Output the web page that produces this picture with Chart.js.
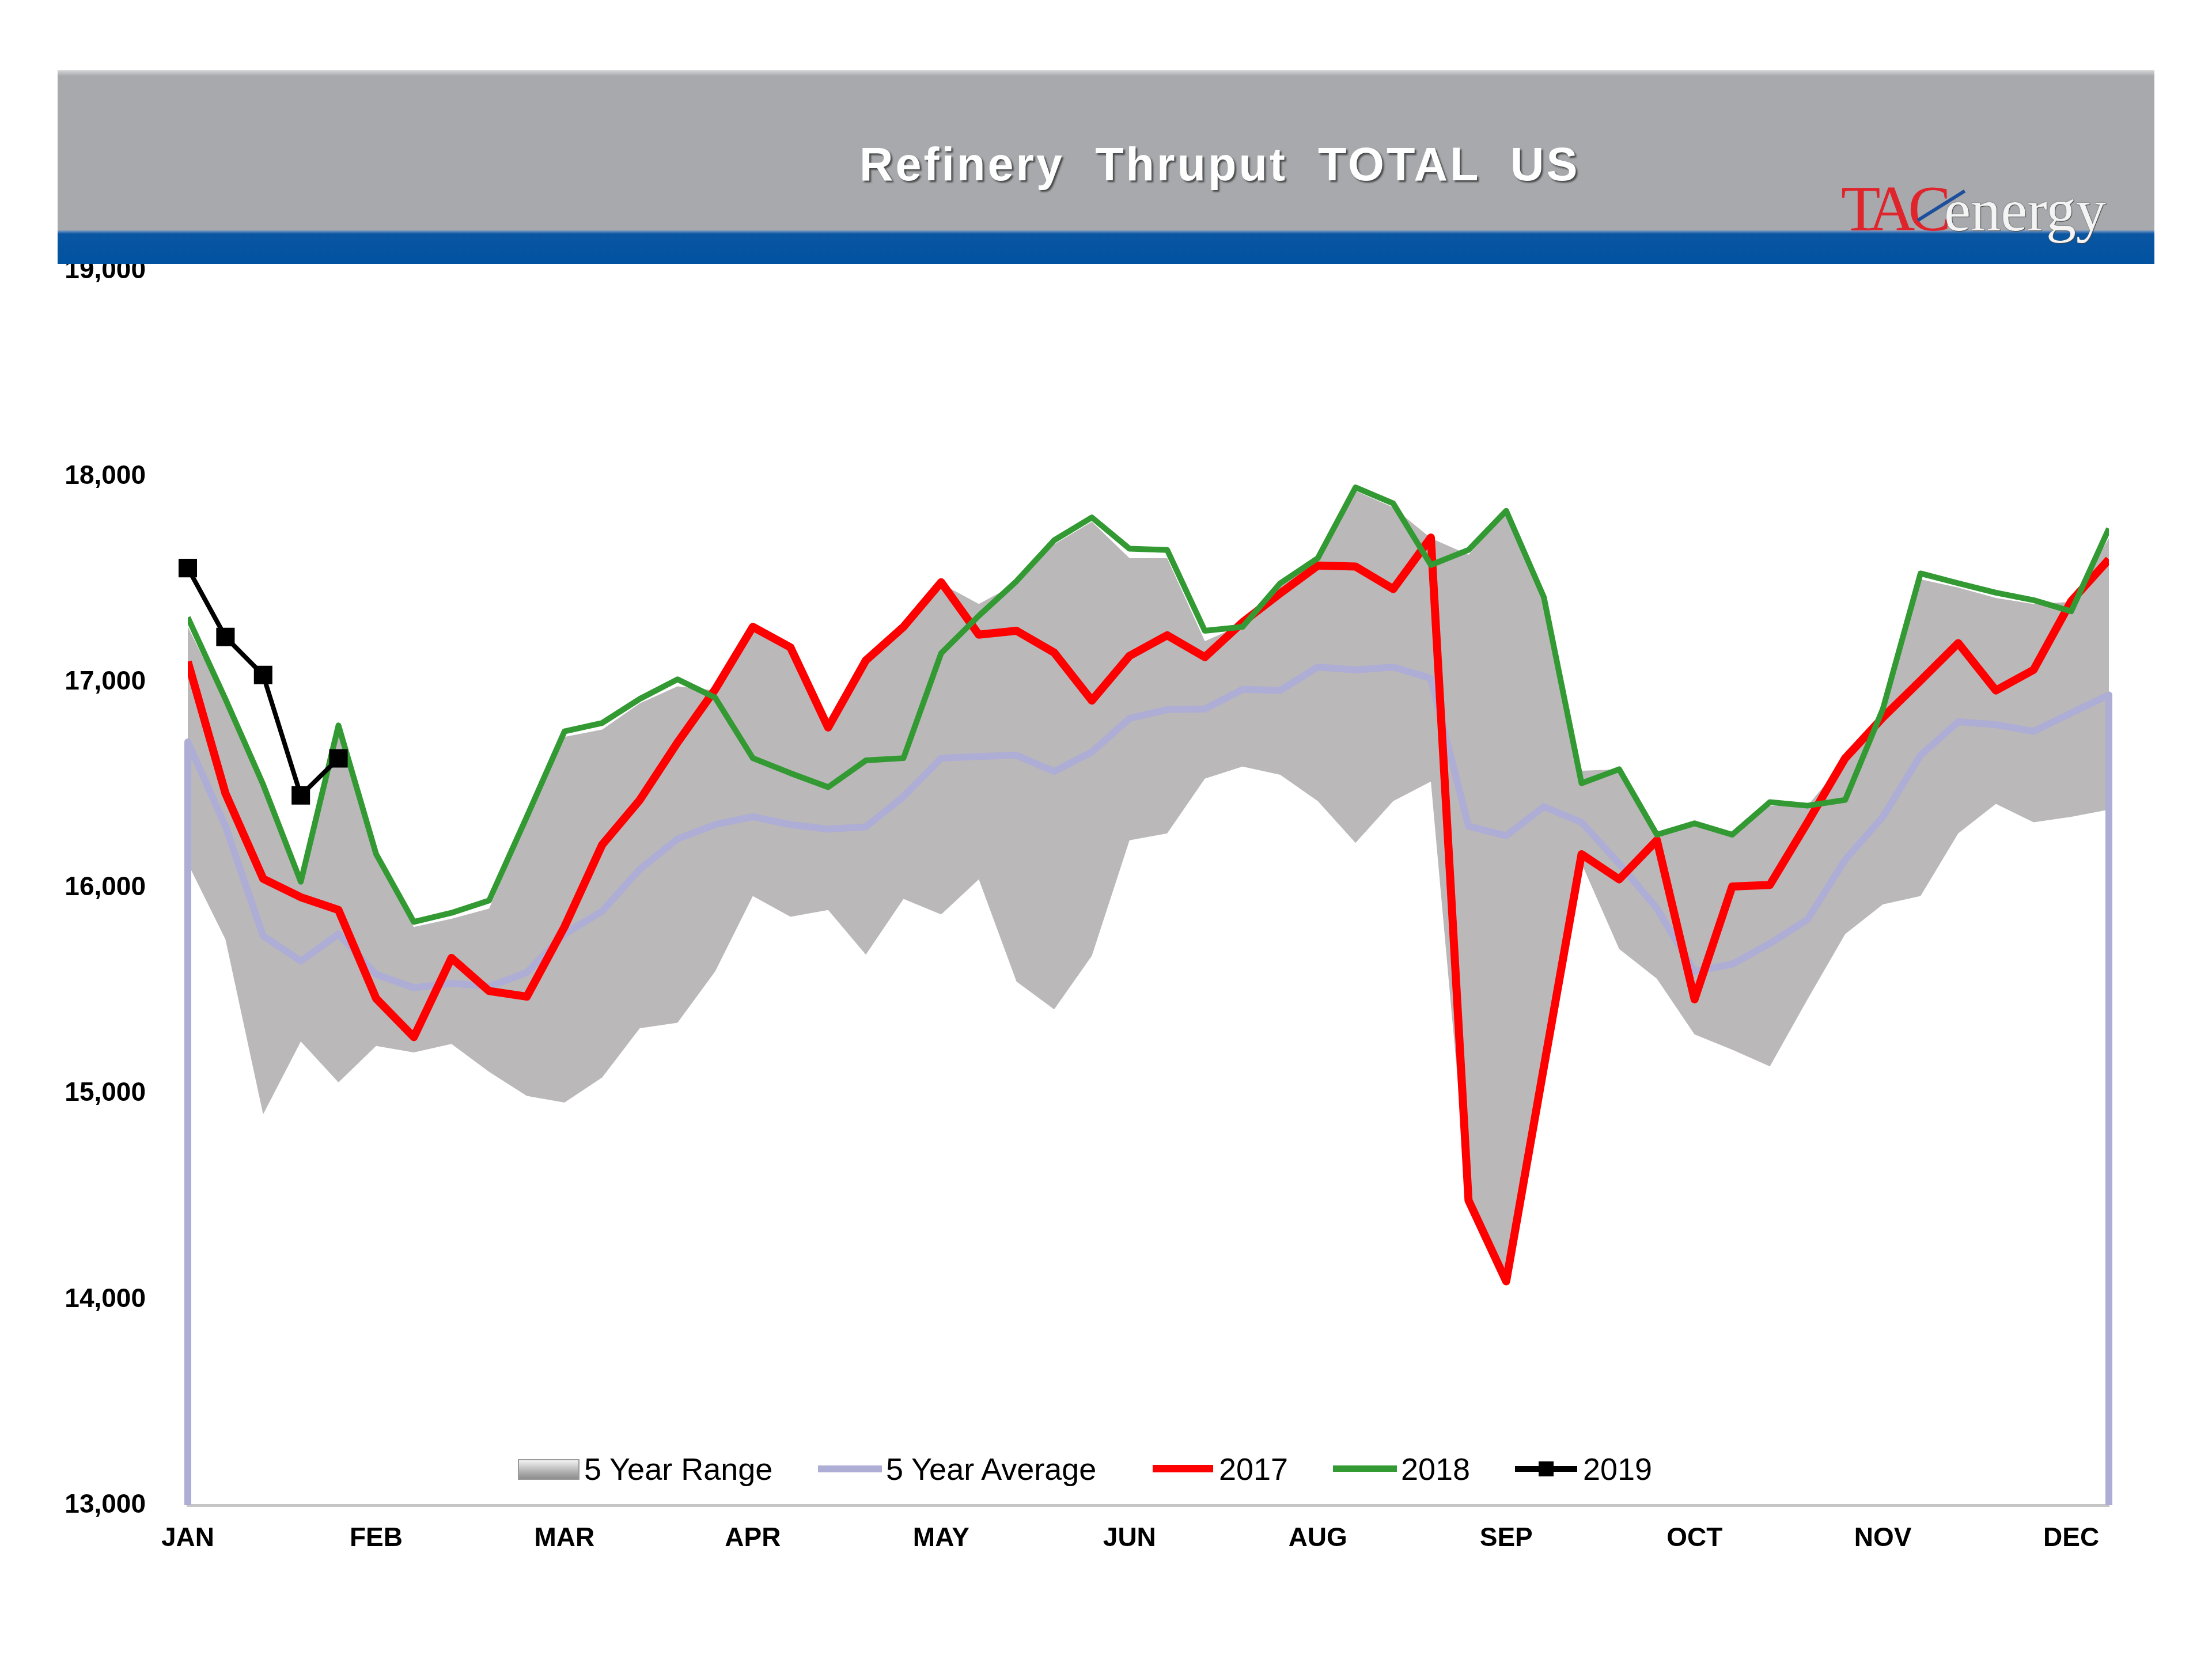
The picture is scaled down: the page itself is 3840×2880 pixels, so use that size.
<!DOCTYPE html>
<html>
<head>
<meta charset="utf-8">
<script src="https://cdn.jsdelivr.net/npm/chart.js@4/dist/chart.umd.min.js"></script>
<style>
html,body{margin:0;padding:0;background:#fff;}
#wrap{position:relative;width:3840px;height:2880px;overflow:hidden;font-family:"Liberation Sans",Arial,sans-serif;}
#c{position:absolute;left:0;top:0;z-index:1;}
#band{position:absolute;left:100px;top:122px;width:3640px;height:278px;z-index:2;background:linear-gradient(#d4d5d7 0px,#a7a9ac 10px,#a7a9ac 100%);}
#blue{position:absolute;left:100px;top:400px;width:3640px;height:58px;z-index:2;background:linear-gradient(#7f9cc4 0px,#0a56a3 6px,#0052a0 100%);}
#title{position:absolute;left:1492px;top:245px;z-index:3;font-size:81px;line-height:81px;font-weight:bold;color:#fff;white-space:pre;letter-spacing:4px;text-shadow:3px 3px 3px rgba(40,40,40,0.75);}
#logo{position:absolute;left:3196px;top:302px;z-index:3;white-space:pre;font-family:"Liberation Serif","DejaVu Serif",serif;line-height:120px;}
#logo .tac{color:#e0242b;font-size:112px;letter-spacing:-12px;}
#logo .en{color:#f4f4f4;font-size:104px;text-shadow:0 0 2px #555,1px 1px 1px #444;}
#slash{position:absolute;left:3322px;top:354px;z-index:4;width:96px;height:6px;background:#1d4f9c;transform:rotate(-32deg);}
.lg{position:absolute;z-index:3;font-size:54px;line-height:54px;color:#000;white-space:pre;top:2523px;}
.sw{position:absolute;z-index:3;}
</style>
</head>
<body>
<div id="wrap">
  <div id="band"></div>
  <div id="blue"></div>
  <div id="title">Refinery  Thruput  TOTAL  US</div>
  <div id="logo"><span class="tac">TAC</span><span class="en">energy</span></div>
  <div id="slash"></div>
  <canvas id="c" width="3840" height="2880"></canvas>
  <div class="sw" style="left:899px;top:2533px;width:103px;height:32px;background:linear-gradient(#f2f2f2,#a9a9a9 70%,#8e8e8e);border:2px solid #9a9a9a;"></div>
  <div class="lg" style="left:1014px;">5 Year Range</div>
  <div class="sw" style="left:1420px;top:2544px;width:111px;height:12px;background:#adadd6;"></div>
  <div class="lg" style="left:1538px;">5 Year Average</div>
  <div class="sw" style="left:2001px;top:2543px;width:105px;height:13px;background:#ff0000;"></div>
  <div class="lg" style="left:2116px;">2017</div>
  <div class="sw" style="left:2314px;top:2544px;width:111px;height:11px;background:#339a33;"></div>
  <div class="lg" style="left:2432px;">2018</div>
  <div class="sw" style="left:2630px;top:2545px;width:108px;height:10px;background:#000;"></div>
  <div class="sw" style="left:2671px;top:2537px;width:26px;height:26px;background:#000;"></div>
  <div class="lg" style="left:2748px;">2019</div>
</div>
<script>
// ---- data (thousand barrels/day, weekly) ----
const weeks = Array.from({length: 52}, (_, i) => i + 1);
const tickLabels = ["JAN","FEB","MAR","APR","MAY","JUN","AUG","SEP","OCT","NOV","DEC"];
const rangeLow = [16120,15750,14900,15254,15055,15232,15201,15242,15106,14989,14957,15079,15318,15345,15594,15961,15860,15893,15676,15947,15871,16042,15545,15410,15670,16232,16265,16531,16590,16550,16422,16219,16422,16517,14482,14088,15130,16120,15703,15559,15288,15214,15133,15459,15776,15920,15961,16265,16409,16319,16346,16381];
const rangeHigh = [17270,16900,16490,16020,16780,16150,15810,15850,15900,16327,16734,16770,16897,16980,16960,17260,17160,16770,17100,17260,17480,17380,17480,17670,17780,17603,17603,17200,17280,17470,17590,17930,17850,17700,17620,17820,17400,16570,16577,16250,16300,16250,16400,16400,16620,16860,17500,17460,17410,17380,17390,17700];
const avg5 = [16710,16300,15767,15645,15776,15580,15515,15537,15521,15589,15776,15887,16091,16238,16308,16346,16308,16286,16297,16444,16631,16639,16645,16566,16661,16824,16867,16870,16965,16960,17074,17060,17074,17019,16300,16254,16395,16319,16118,15901,15594,15630,15730,15847,16137,16346,16645,16808,16794,16761,16851,16938];
const y2017 = [17100,16460,16045,15955,15893,15463,15275,15660,15499,15472,15811,16210,16428,16707,16965,17269,17169,16780,17106,17269,17486,17231,17250,17144,16911,17128,17228,17122,17291,17432,17567,17562,17453,17703,14482,14088,15130,16164,16042,16232,15459,16007,16015,16319,16631,16829,17008,17190,16960,17060,17394,17597];
const y2018 = [17315,16918,16503,16030,16790,16165,15835,15879,15939,16346,16761,16802,16919,17014,16925,16631,16558,16490,16620,16631,17141,17323,17491,17690,17801,17649,17643,17250,17269,17481,17603,17947,17869,17570,17643,17833,17413,16509,16577,16259,16314,16259,16417,16400,16428,16870,17529,17481,17435,17399,17345,17747];
const y2019 = [17555,17220,17035,16450,16630];
const yMin = 13000, yMax = 19000;
const labelEvery = 5;

const xy = arr => arr.map((v, i) => ({x: i, y: v}));
const lastIdx = weeks.length - 1;

new Chart(document.getElementById('c').getContext('2d'), {
  type: 'line',
  data: {
    datasets: [
      {label: '5 Year Range low', data: xy(rangeLow), borderColor: 'transparent', borderWidth: 0, pointRadius: 0, fill: false, order: 6},
      {label: '5 Year Range', data: xy(rangeHigh), borderColor: 'transparent', borderWidth: 0, pointRadius: 0, backgroundColor: 'rgb(187,184,185)', fill: '-1', order: 5},
      {label: '5 Year Average', data: [{x: 0, y: yMin}, ...xy(avg5), {x: lastIdx, y: yMin}], borderColor: '#adadd6', borderWidth: 12, pointRadius: 0, clip: {left: 10, right: 10, top: 10, bottom: 0}, order: 4},
      {label: '2017', data: xy(y2017), borderColor: '#ff0000', borderWidth: 14, pointRadius: 0, order: 3},
      {label: '2018', data: xy(y2018), borderColor: '#339a33', borderWidth: 10, pointRadius: 0, order: 2},
      {label: '2019', data: xy(y2019), borderColor: '#000000', borderWidth: 8, pointStyle: 'rect', pointRadius: 17, pointBackgroundColor: '#000', pointBorderColor: '#000', clip: false, order: 1}
    ]
  },
  options: {
    responsive: false,
    animation: false,
    devicePixelRatio: 1,
    layout: {padding: {left: 100, right: 179, top: 470, bottom: 117}},
    plugins: {legend: {display: false}, tooltip: {enabled: false}},
    elements: {line: {tension: 0, borderJoinStyle: 'round', borderCapStyle: 'butt'}},
    scales: {
      x: {
        type: 'linear', min: 0, max: lastIdx,
        afterBuildTicks: s => { s.ticks = tickLabels.map((_, i) => ({value: i * labelEvery})); },
        afterFit: s => { s.height = 150; },
        grid: {display: false, drawTicks: false},
        border: {display: true, color: '#c6c6c6', width: 5},
        ticks: {
          autoSkip: false, maxRotation: 0, padding: 31, color: '#000',
          font: {family: 'Liberation Sans', size: 46, weight: 'bold'},
          callback: v => tickLabels[Math.round(v / labelEvery)] || ''
        }
      },
      y: {
        min: yMin, max: yMax,
        afterFit: s => { s.width = 226; },
        grid: {display: false, drawTicks: false},
        border: {display: false},
        ticks: {
          stepSize: 1000, padding: 73, color: '#000',
          font: {family: 'Liberation Sans', size: 46, weight: 'bold'},
          callback: v => v.toLocaleString('en-US')
        }
      }
    }
  }
});
</script>
</body>
</html>
